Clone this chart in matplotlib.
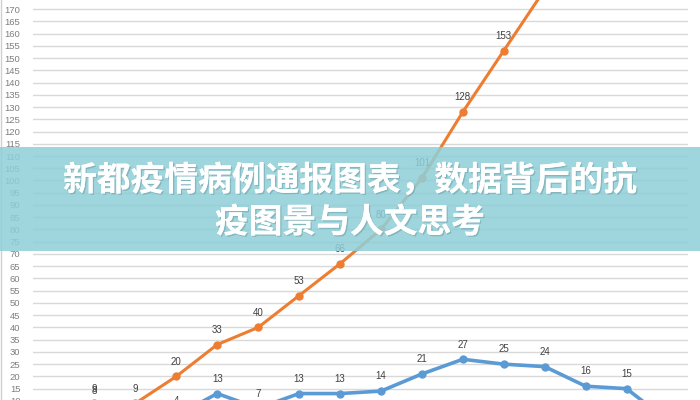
import numpy as np
import matplotlib.pyplot as plt
import matplotlib.patheffects as pe
from matplotlib.patches import Rectangle
#----------------------------------------------------------------------------------------

# category positions (days)
days = list(range(-1, 15))
confirmed = [2, 9, 9, 20, 33, 40, 53, 66, 80, 101, 128, 153, 178, 205, 232, 260]
daily     = [1, 8, 2, 4, 13, 7, 13, 13, 14, 21, 27, 25, 24, 16, 15, 2]
y_ticks = list(range(0, 185, 5))

TITLE_1 = "新都疫情病例通报图表，数据背后的抗"
TITLE_2 = "疫图景与人文思考"

ORANGE = "#ED7D31"
BLUE = "#5B9BD5"
#----------------------------------------------------------------------------------------

def label_points(ax, xs, ys, color="#404040"):
    for x, y in zip(xs, ys):
        ax.annotate(str(y), (x, y), xytext=(0, 7), textcoords="offset points",
                    ha="center", va="bottom", fontsize=7, color=color,
                    family="Liberation Sans")


def main():
    fig = plt.figure(figsize=(7, 4), dpi=100)

    # axis 0..180 stretched so 10 sits at the bottom edge and 170 near the top
    px_per = 2.449
    y_bot = 400.9 + 10 * px_per
    y_top = 400.9 - 170 * px_per
    ax = fig.add_axes([33 / 700, (400 - y_bot) / 400, 655 / 700, (y_bot - y_top) / 400])

    ax.set_xlim(-1.5, 14.5)
    ax.set_ylim(0, 180)
    ax.set_yticks(y_ticks)
    ax.set_xticks([])
    ax.grid(axis="y", color="#d9d9d9", lw=1)
    ax.set_axisbelow(True)
    for s in ax.spines.values():
        s.set_visible(False)
    ax.tick_params(axis="y", length=0, pad=9, labelsize=6.8, labelcolor="#7f7f7f")
    for t in ax.get_yticklabels():
        t.set_family("Liberation Sans")

    ax.plot(days, confirmed, color=ORANGE, lw=2.2, marker="o", ms=5)
    ax.plot(days, daily, color=BLUE, lw=2.6, marker="o", ms=5)
    label_points(ax, days, confirmed)
    label_points(ax, days, daily)

    # thin frame on the left like the cropped chart border
    fig.add_artist(plt.Line2D([0.002, 0.002], [0, 1], color="#d0d0d0", lw=1))

    # translucent banner with the title
    fig.add_artist(Rectangle((0, 1 - 251 / 400), 1, 104 / 400, transform=fig.transFigure,
                             facecolor="#8fcfd8", alpha=0.86, lw=0, zorder=5))
    shadow = [pe.withSimplePatchShadow(offset=(1, -1), shadow_rgbFace="#6a9aa0", alpha=0.5), pe.Normal()]
    for txt, ypix in [(TITLE_1, 180), (TITLE_2, 222)]:
        fig.text(0.5, 1 - ypix / 400, txt, ha="center", va="center", color="white",
                 fontsize=24.3, fontweight="heavy", family=["Noto Sans CJK SC", "DejaVu Sans"],
                 zorder=6, path_effects=shadow)

    fig.savefig("out.png", dpi=100)


if __name__ == '__main__':
    main()
